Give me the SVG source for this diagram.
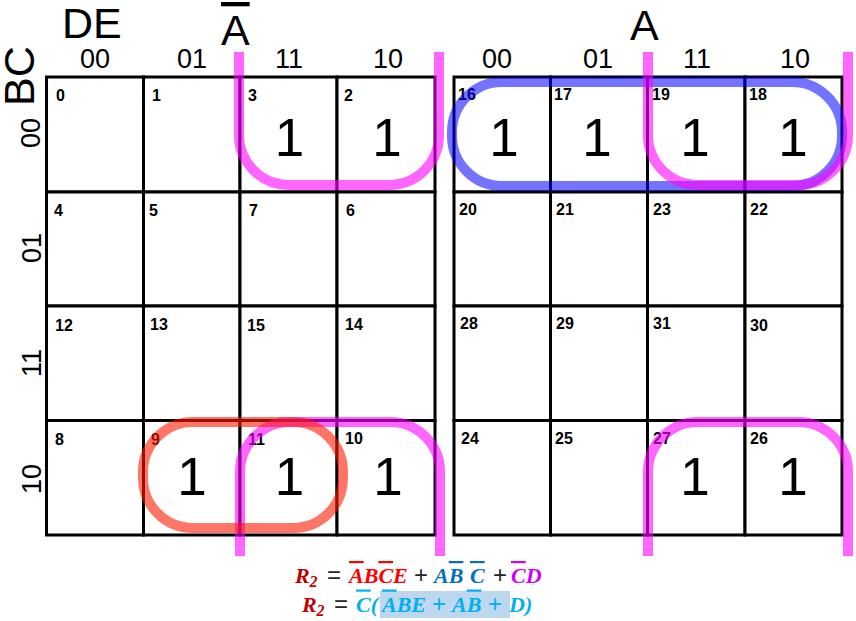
<svg xmlns="http://www.w3.org/2000/svg" width="856" height="621" viewBox="0 0 856 621">
<style>
.cell{fill:#fff;stroke:#000;stroke-width:3}
.idx{font-family:"Liberation Sans",Arial,sans-serif;font-weight:bold;font-size:16px;fill:#000}
.one{font-family:"Liberation Sans",Arial,sans-serif;font-size:53px;text-anchor:middle;fill:#000}
.hdr{font-family:"Liberation Sans",Arial,sans-serif;font-size:27px;text-anchor:middle;fill:#000}
.big{font-family:"Liberation Sans",Arial,sans-serif;font-size:43px;fill:#000}
.loop{fill:none;stroke-width:10}
.mag{stroke:#ff00ff;stroke-opacity:0.6}
.blu{stroke:#0000ff;stroke-opacity:0.55}
.red{stroke:#ff1a00;stroke-opacity:0.6}
.f{font-family:"Liberation Serif","Times New Roman",serif;font-weight:bold;font-style:italic;font-size:22px}
.op{font-family:"Liberation Sans",Arial,sans-serif;font-weight:normal;font-style:normal;font-size:24px}
.sub{font-size:16px}
.ol{text-decoration:overline}
</style>

<g id="headers">
<text class="big" x="62" y="38">DE</text>
<text class="big" x="221" y="45"><tspan class="ol">A</tspan></text>
<text class="big" x="630" y="40">A</text>
<text class="big" x="34" y="76" text-anchor="middle" transform="rotate(-90 34 76)">BC</text>
<text class="hdr" x="95" y="68">00</text>
<text class="hdr" x="192" y="68">01</text>
<text class="hdr" x="289" y="68">11</text>
<text class="hdr" x="388" y="68">10</text>
<text class="hdr" x="497" y="68">00</text>
<text class="hdr" x="598" y="68">01</text>
<text class="hdr" x="697" y="68">11</text>
<text class="hdr" x="795" y="68">10</text>
<text class="hdr" transform="translate(40 133) rotate(-90)">00</text>
<text class="hdr" transform="translate(41 248) rotate(-90)">01</text>
<text class="hdr" transform="translate(41 363) rotate(-90)">11</text>
<text class="hdr" transform="translate(41 479) rotate(-90)">10</text>
</g>

<g id="map-left">
<g id="cell-0"><rect class="cell" x="46.5" y="77" width="97" height="115"/><text class="idx" x="56" y="101">0</text></g>
<g id="cell-1"><rect class="cell" x="143.5" y="77" width="96.5" height="115"/><text class="idx" x="152" y="101">1</text></g>
<g id="cell-3"><rect class="cell" x="240" y="77" width="97" height="115"/><text class="idx" x="248" y="101">3</text><text class="one" x="289.5" y="156">1</text></g>
<g id="cell-2"><rect class="cell" x="337" y="77" width="98" height="115"/><text class="idx" x="344" y="101">2</text><text class="one" x="387" y="156">1</text></g>

<g id="cell-4"><rect class="cell" x="46.5" y="192" width="97" height="114"/><text class="idx" x="54" y="216">4</text></g>
<g id="cell-5"><rect class="cell" x="143.5" y="192" width="96.5" height="114"/><text class="idx" x="149" y="216">5</text></g>
<g id="cell-7"><rect class="cell" x="240" y="192" width="97" height="114"/><text class="idx" x="249" y="216">7</text></g>
<g id="cell-6"><rect class="cell" x="337" y="192" width="98" height="114"/><text class="idx" x="346" y="216">6</text></g>

<g id="cell-12"><rect class="cell" x="46.5" y="306" width="97" height="114.5"/><text class="idx" x="55" y="331">12</text></g>
<g id="cell-13"><rect class="cell" x="143.5" y="306" width="96.5" height="114.5"/><text class="idx" x="150" y="330">13</text></g>
<g id="cell-15"><rect class="cell" x="240" y="306" width="97" height="114.5"/><text class="idx" x="247" y="331">15</text></g>
<g id="cell-14"><rect class="cell" x="337" y="306" width="98" height="114.5"/><text class="idx" x="345" y="330">14</text></g>

<g id="cell-8"><rect class="cell" x="46.5" y="420.5" width="97" height="114.5"/><text class="idx" x="55" y="445">8</text></g>
<g id="cell-9"><rect class="cell" x="143.5" y="420.5" width="96.5" height="114.5"/><text class="idx" x="151" y="445">9</text><text class="one" x="192" y="495">1</text></g>
<g id="cell-11"><rect class="cell" x="240" y="420.5" width="97" height="114.5"/><text class="idx" x="248" y="445">11</text><text class="one" x="289.5" y="495">1</text></g>
<g id="cell-10"><rect class="cell" x="337" y="420.5" width="98" height="114.5"/><text class="idx" x="345" y="444">10</text><text class="one" x="388" y="495">1</text></g>
</g>

<g id="map-right">
<g id="cell-16"><rect class="cell" x="454" y="77" width="96.5" height="115"/><text class="idx" x="458" y="100">16</text><text class="one" x="504" y="156">1</text></g>
<g id="cell-17"><rect class="cell" x="550.5" y="77" width="97" height="115"/><text class="idx" x="554" y="100">17</text><text class="one" x="597" y="156">1</text></g>
<g id="cell-19"><rect class="cell" x="647.5" y="77" width="97.5" height="115"/><text class="idx" x="652" y="100">19</text><text class="one" x="695" y="156">1</text></g>
<g id="cell-18"><rect class="cell" x="745" y="77" width="97" height="115"/><text class="idx" x="749" y="100">18</text><text class="one" x="793" y="156">1</text></g>

<g id="cell-20"><rect class="cell" x="454" y="192" width="96.5" height="114"/><text class="idx" x="459" y="215">20</text></g>
<g id="cell-21"><rect class="cell" x="550.5" y="192" width="97" height="114"/><text class="idx" x="556" y="215">21</text></g>
<g id="cell-23"><rect class="cell" x="647.5" y="192" width="97.5" height="114"/><text class="idx" x="653" y="215">23</text></g>
<g id="cell-22"><rect class="cell" x="745" y="192" width="97" height="114"/><text class="idx" x="750" y="215">22</text></g>

<g id="cell-28"><rect class="cell" x="454" y="306" width="96.5" height="114.5"/><text class="idx" x="460" y="329">28</text></g>
<g id="cell-29"><rect class="cell" x="550.5" y="306" width="97" height="114.5"/><text class="idx" x="556" y="329">29</text></g>
<g id="cell-31"><rect class="cell" x="647.5" y="306" width="97.5" height="114.5"/><text class="idx" x="653" y="329">31</text></g>
<g id="cell-30"><rect class="cell" x="745" y="306" width="97" height="114.5"/><text class="idx" x="750" y="331">30</text></g>

<g id="cell-24"><rect class="cell" x="454" y="420.5" width="96.5" height="114.5"/><text class="idx" x="461" y="444">24</text></g>
<g id="cell-25"><rect class="cell" x="550.5" y="420.5" width="97" height="114.5"/><text class="idx" x="555" y="444">25</text></g>
<g id="cell-27"><rect class="cell" x="647.5" y="420.5" width="97.5" height="114.5"/><text class="idx" x="653" y="444">27</text><text class="one" x="695" y="495">1</text></g>
<g id="cell-26"><rect class="cell" x="745" y="420.5" width="97" height="114.5"/><text class="idx" x="750" y="444">26</text><text class="one" x="793" y="495">1</text></g>
</g>

<g id="groupings">
<rect id="loop-blue" class="loop blu" x="452" y="82" width="390" height="104" rx="50" ry="50"/>
<path id="loop-mag-tl" class="loop mag" d="M239,52 V135 A50,50 0 0 0 289,185 H389 A50,50 0 0 0 439,135 V52"/>
<path id="loop-mag-tr" class="loop mag" d="M648,52 V135 A50,50 0 0 0 698,185 H798 A50,50 0 0 0 848,135 V52"/>
<path id="loop-mag-bl" class="loop mag" d="M240,556 V472 A50,50 0 0 1 290,422 H390 A50,50 0 0 1 440,472 V556"/>
<path id="loop-mag-br" class="loop mag" d="M648,556 V472 A50,50 0 0 1 698,422 H798 A50,50 0 0 1 848,472 V556"/>
<rect id="loop-red" class="loop red" x="143" y="422" width="200" height="106" rx="50" ry="50"/>
</g>

<g id="formula">
<rect x="380" y="591" width="130" height="27" fill="#bdd7ee"/>
<text class="f" y="583">
<tspan x="295" fill="#c00000">R</tspan><tspan class="sub" x="309.5" y="587" fill="#c00000">2</tspan>
<tspan class="op" x="327" y="583" fill="#262626">=</tspan>
<tspan x="349" fill="#ff0000"><tspan class="ol">A</tspan>B<tspan class="ol">C</tspan>E</tspan>
<tspan class="op" x="414" fill="#262626">+</tspan>
<tspan x="434" fill="#0070c0">A<tspan class="ol">B</tspan></tspan>
<tspan x="470" fill="#0070c0" class="ol">C</tspan>
<tspan class="op" x="493" fill="#262626">+</tspan>
<tspan x="511" fill="#cc00ff"><tspan class="ol">C</tspan>D</tspan>
</text>
<text class="f" y="611.5">
<tspan x="302" fill="#c00000">R</tspan><tspan class="sub" x="316.5" y="615.5" fill="#c00000">2</tspan>
<tspan class="op" x="334" y="611.5" fill="#262626">=</tspan>
<tspan x="356" fill="#00b0f0"><tspan class="ol">C</tspan>(</tspan>
<tspan x="382" fill="#00b0f0"><tspan class="ol">A</tspan>BE</tspan>
<tspan class="op" x="432" fill="#00b0f0">+</tspan>
<tspan x="452" fill="#00b0f0">A<tspan class="ol">B</tspan></tspan>
<tspan class="op" x="488" fill="#00b0f0">+</tspan>
<tspan x="509" fill="#00b0f0">D)</tspan>
</text>
</g>
</svg>
